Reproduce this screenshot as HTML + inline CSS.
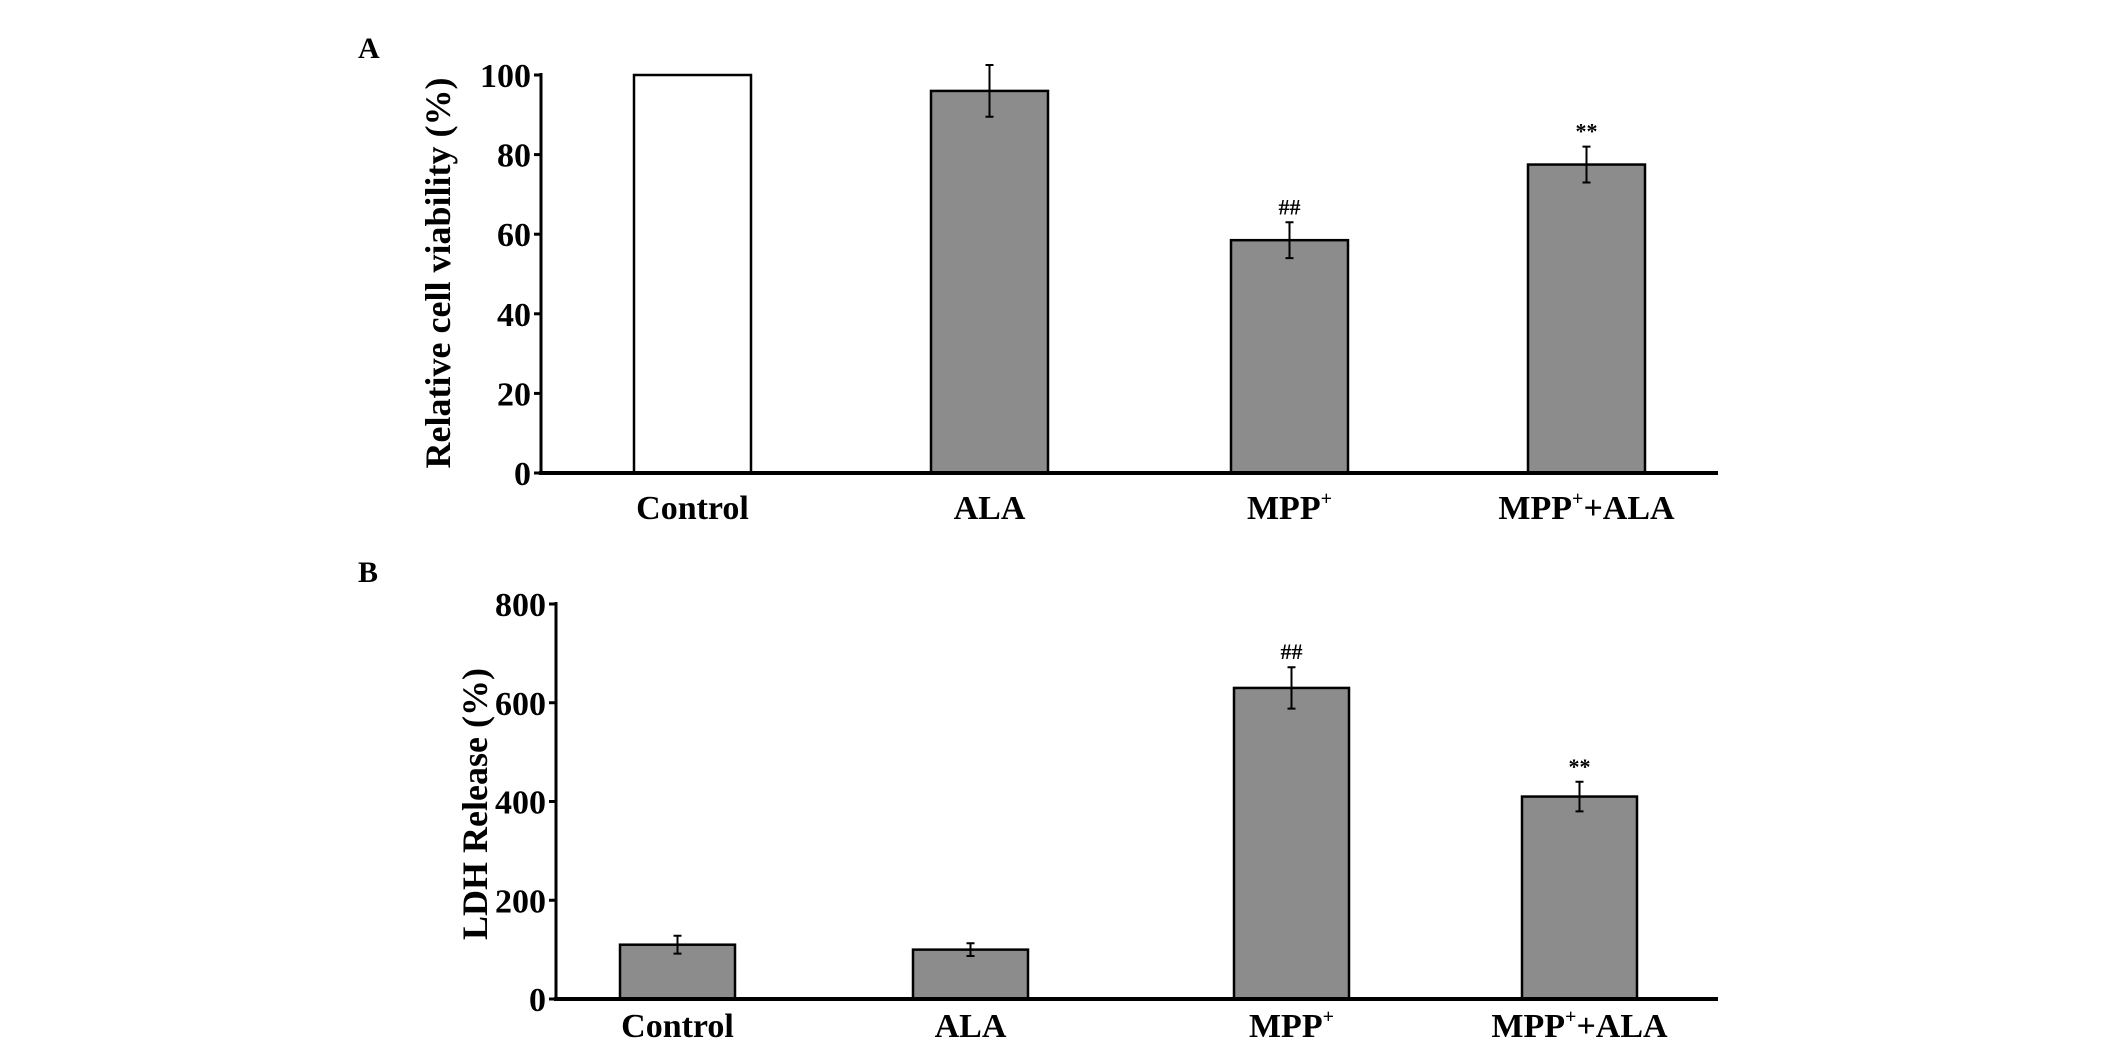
<!DOCTYPE html>
<html><head><meta charset="utf-8"><style>
body{margin:0;background:#fff}
svg text{font-family:"Liberation Serif",serif;font-weight:bold;fill:#000}
</style></head><body>
<svg id="c" width="2126" height="1058" xmlns="http://www.w3.org/2000/svg"></svg>
<script>
const categories=["Control","ALA","MPP","MPP+ALA"];
const viabilityValues=[100,96,58.5,77.5];
const viabilityErrors=[0,6.5,4.5,4.5];
const viabilityMarks=["","","##","**"];
const viabilityTicks=[0,20,40,60,80,100];
const ldhValues=[110,100,630,410];
const ldhErrors=[18,13,42,30];
const ldhMarks=["","","##","**"];
const ldhTicks=[0,200,400,600,800];
const NS="http://www.w3.org/2000/svg";
const svg=document.getElementById('c');
function mk(t,a,p){const e=document.createElementNS(NS,t);for(const k in a)e.setAttribute(k,a[k]);(p||svg).appendChild(e);return e;}
function panel(cfg){
  const g=mk('g',{});
  
  
  const y=v=>cfg.y0-(v-cfg.min)/(cfg.max-cfg.min)*(cfg.y0-cfg.y1);
  const lab=mk('text',{x:cfg.lx,y:cfg.ly,'font-size':30},g);lab.textContent=cfg.letter;
  
  const ya=mk('line',{x1:cfg.ax,x2:cfg.ax,y1:cfg.y1-2,y2:cfg.y0,stroke:'#000','stroke-width':3},g);
  
  cfg.ticks.forEach(t=>{
    mk('line',{x1:cfg.ax-7,x2:cfg.ax,y1:y(t),y2:y(t),stroke:'#000','stroke-width':3},g);
    const tx=mk('text',{x:cfg.ax-10,y:y(t)+12,'font-size':34,'text-anchor':'end'},g);tx.textContent=t;
    
  });
  const tt=mk('text',{x:0,y:0,'font-size':36,'text-anchor':'middle',transform:`translate(${cfg.tx},${cfg.ty}) rotate(-90)`},g);
  tt.textContent=cfg.title;
  cfg.vals.forEach((v,i)=>{
    const x=cfg.bx[i];
    const r=mk('rect',{x:x,y:y(v),width:cfg.bw,height:cfg.y0-y(v),fill:cfg.fills[i],stroke:'#000','stroke-width':2.5},g);
    
    
    const cx=x+cfg.bw/2,e=cfg.errs[i];
    if(e>0){
      const eb=mk('path',{d:`M${cx},${y(v+e)}V${y(v-e)}M${cx-4},${y(v+e)}H${cx+4}M${cx-4},${y(v-e)}H${cx+4}`,stroke:'#000','stroke-width':2,fill:'none'},g);
      
    }
    if(cfg.marks[i]){
      const m=mk('text',{x:cx,y:y(v+e)-8,'font-size':22,'text-anchor':'middle'},g);m.textContent=cfg.marks[i];
      
    }
    const cl=mk('text',{x:cx,y:cfg.cy,'font-size':34,'text-anchor':'middle'},g);
    if(categories[i].startsWith('MPP')){
      cl.appendChild(document.createTextNode('MPP'));
      const s=mk('tspan',{'font-size':20,dy:-14},cl);s.textContent='+';
      if(categories[i].length>3){const s2=mk('tspan',{dy:14},cl);s2.textContent='+ALA';}
    } else cl.textContent=categories[i];
    
  });
  const xa=mk('line',{x1:cfg.ax-2,x2:1718,y1:cfg.y0,y2:cfg.y0,stroke:'#000','stroke-width':4},g);
  
}
panel({name:'panel-a-cell-viability',letter:'A',lx:358,ly:58,ax:541,y0:473,y1:75,min:0,max:100,ticks:viabilityTicks,
  title:'Relative cell viability (%)',tx:450,ty:273,vals:viabilityValues,errs:viabilityErrors,marks:viabilityMarks,
  bx:[634,931,1231,1528],bw:117,fills:['#fff','#8c8c8c','#8c8c8c','#8c8c8c'],cy:519});
panel({name:'panel-b-ldh-release',letter:'B',lx:358,ly:582,ax:556,y0:999,y1:604,min:0,max:800,ticks:ldhTicks,
  title:'LDH Release (%)',tx:487,ty:804,vals:ldhValues,errs:ldhErrors,marks:ldhMarks,
  bx:[620,913,1234,1522],bw:115,fills:['#8c8c8c','#8c8c8c','#8c8c8c','#8c8c8c'],cy:1037});
</script>
</body></html>
